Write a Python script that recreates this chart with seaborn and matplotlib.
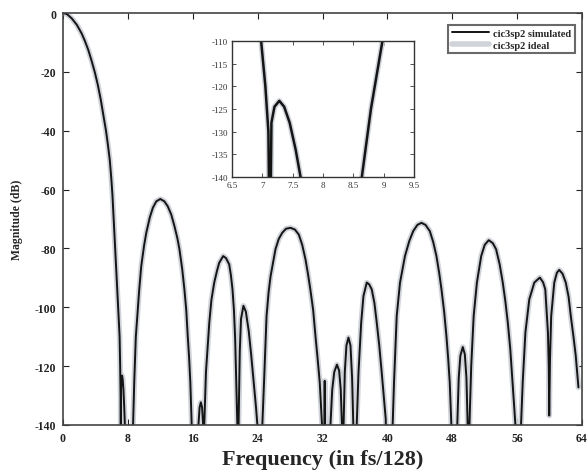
import numpy as np
import pandas as pd
import seaborn as sns
import matplotlib
matplotlib.use("Agg")
import matplotlib.pyplot as plt
from matplotlib.lines import Line2D

# ---- data (frequency in fs/128, magnitude in dB) ----
freq = [
    0, 0.5, 1.07, 1.7, 2.29, 2.7, 3.11, 3.5, 3.93, 4.3, 4.66, 5.0, 5.3, 5.55, 5.77,
    5.95, 6.1, 6.25, 6.45, 6.62, 6.8, 6.98, 7.05, 7.1, 7.12,
    7.13, 7.15, 7.2, 7.28, 7.36, 7.45, 7.55, 7.63, 7.66,
    8.62, 8.64, 8.79, 8.98, 9.16, 9.4, 9.65, 10.0, 10.27, 10.7, 11.08, 11.5, 12.0, 12.5,
    12.92, 13.35, 13.74, 14.1, 14.36, 14.7, 14.97, 15.2, 15.38, 15.55, 15.7, 15.87, 15.9,
    16.6, 16.7, 16.85, 17.0, 17.15, 17.28, 17.3,
    17.38, 17.42, 17.63, 18.04, 18.3, 18.65, 19.0, 19.26, 19.75, 20.1, 20.49, 20.7, 20.9,
    21.08, 21.23, 21.39, 21.5, 21.52,
    21.62, 21.65, 21.8, 21.95, 22.25, 22.55, 22.9, 23.2, 23.5, 23.8, 23.97, 24.0,
    24.55, 24.58, 24.79, 25.1, 25.35, 25.6, 26.2, 26.6, 27.03, 27.5, 28.06, 28.6, 29.08,
    29.5, 29.9, 30.2, 30.5, 30.85, 31.13, 31.4, 31.66, 31.94, 31.97,
    32.2, 32.27, 32.33,
    32.95, 32.98, 33.2, 33.45, 33.78, 34.05, 34.25, 34.4, 34.42,
    34.58, 34.6, 34.75, 34.95, 35.2, 35.45, 35.65, 35.8, 35.82,
    36.18, 36.22, 36.44, 36.77, 37.05, 37.46, 37.75, 38.07, 38.4, 38.69, 39.0, 39.3, 39.8, 39.85,
    40.62, 40.65, 40.82, 41.15, 41.56, 42.17, 42.7, 43.19, 43.7, 44.2, 44.7, 45.23, 45.65,
    46.05, 46.4, 46.67, 47.0, 47.28, 47.5, 47.69, 47.89, 47.92,
    48.58, 48.62, 48.8, 49.0, 49.3, 49.55, 49.75, 49.9, 49.92,
    50.08, 50.12, 50.34, 50.64, 51.04, 51.57, 52.0, 52.5, 53.0, 53.41, 53.85, 54.23, 54.55,
    54.85, 55.15, 55.38, 55.6, 55.79, 55.82,
    56.45, 56.48, 56.69, 57.02, 57.5, 58.12, 58.8, 59.2, 59.47, 59.8, 59.9, 59.96, 60.05,
    60.2, 60.58, 60.9, 61.19, 61.6, 62.0, 62.35, 62.62, 62.95, 63.23, 63.56,
]
mag_db = [
    0, -0.4, -1.8, -4, -6.9, -9.5, -12.5, -16, -20.2, -24.5, -29.5, -35, -40, -45, -50,
    -56, -62, -70, -80, -90, -100, -110, -120, -130, -155,
    -155, -128, -124.5, -123.2, -124.5, -128, -134, -140, -155,
    -155, -140, -125, -110, -103, -94, -86, -79, -74.7, -69.5, -66.2, -64, -63.2, -64,
    -65.7, -68.5, -72.4, -76.5, -80.3, -87, -93.9, -101, -109.7, -117, -125.4, -140, -155,
    -155, -140, -134, -132.3, -134, -140, -155,
    -155, -140, -122, -105.2, -97.5, -91.6, -87.5, -84.9, -82.6, -83.3, -85.4, -89, -93.9,
    -101, -110.8, -127.8, -140, -155,
    -155, -140, -115, -104, -99.5, -101.5, -108, -116, -125, -134, -140, -155,
    -155, -140, -125.5, -103, -95, -89.4, -80.3, -76.8, -74.7, -73.3, -73.0, -73.6, -75.3,
    -78.8, -83.7, -88.5, -93.9, -101, -109.7, -117.5, -125.5, -140, -155,
    -155, -125, -155,
    -155, -140, -128, -122, -119.5, -121.5, -128, -140, -155,
    -155, -140, -122, -113, -110.3, -113, -124, -140, -155,
    -155, -140, -122.1, -105.2, -96.2, -91.6, -92.2, -93.9, -98.5, -105.2, -113, -122.1, -138, -155,
    -155, -140, -125.5, -103, -91.6, -82.6, -77.5, -74.1, -72, -71.3, -72, -74.1, -77.8,
    -82.6, -88.5, -93.9, -101.5, -109.7, -117.5, -125.5, -140, -155,
    -155, -140, -124, -116.5, -113.5, -116, -124, -140, -155,
    -155, -140, -119.9, -103, -91.6, -82.6, -78.8, -77.2, -78.2, -80.3, -85.5, -91.6, -98,
    -105.2, -114, -123.3, -132, -140, -155,
    -155, -140, -125.5, -108.6, -97.3, -91.6, -89.9, -91.5, -93.9, -108.6, -120, -136.8, -118,
    -103, -91.6, -88.3, -87.3, -88.6, -91.6, -96.5, -103, -110, -116.5, -127.2,
]

series_names = ["cic3sp2 simulated", "cic3sp2 ideal"]
x_ticks = [0, 8, 16, 24, 32, 40, 48, 56, 64]
y_ticks = [0, -20, -40, -60, -80, -100, -120, -140]
inset_x_ticks = [6.5, 7, 7.5, 8, 8.5, 9, 9.5]
inset_x_labels = ["6.5", "7", "7.5", "8", "8.5", "9", "9.5"]
inset_y_ticks = [-110, -115, -120, -125, -130, -135, -140]

df = pd.DataFrame({"freq": freq, "mag": mag_db})

sns.set_theme(style="ticks")
plt.rcParams["font.family"] = ["Liberation Serif", "DejaVu Serif"]
plt.rcParams["font.weight"] = "bold"
plt.rcParams["axes.unicode_minus"] = False

fig = plt.figure(figsize=(5.87, 4.77), dpi=100)
W, H = 587, 477
ax = fig.add_axes([63 / W, 1 - 426 / H, (582 - 63) / W, (426 - 14) / H])

ideal_color = "#d0d4da"
sns.lineplot(data=df, x="freq", y="mag", ax=ax, sort=False, estimator=None,
             color=ideal_color, linewidth=4, legend=False)
sns.lineplot(data=df, x="freq", y="mag", ax=ax, sort=False, estimator=None,
             color="#141414", linewidth=1.4, legend=False)

ax.set_xlim(0, 64)
ax.set_ylim(-140, 0)
ax.set_xticks(x_ticks)
ax.set_yticks(y_ticks)
ax.tick_params(direction="in", top=True, right=True, length=4, width=0.8,
               labelsize=8.5, colors="#222222", pad=5)
for lab in ax.get_xticklabels() + ax.get_yticklabels():
    lab.set_fontweight("bold")
for s in ax.spines.values():
    s.set_linewidth(1.2)
    s.set_color("#444444")
ax.set_xlabel("Frequency (in fs/128)", fontsize=16, fontweight="bold", labelpad=4)
ax.set_ylabel("Magnitude (dB)", fontsize=8.5, fontweight="bold", labelpad=8)

handles = [Line2D([0], [0], color="#141414", lw=1.4),
           Line2D([0], [0], color=ideal_color, lw=4)]
leg = ax.legend(handles, series_names, loc="upper right",
                bbox_to_anchor=(0.987, 0.971), borderaxespad=0, fancybox=False,
                frameon=True, prop={"weight": "bold", "size": 7.5},
                handlelength=3.6, handletextpad=0.4, borderpad=0.35,
                labelspacing=0.25)
leg.get_frame().set_edgecolor("#444444")
leg.get_frame().set_linewidth(1.5)

# inset zoom
axi = fig.add_axes([232 / W, 1 - 178 / H, (414 - 232) / W, (178 - 42) / H])
sns.lineplot(data=df, x="freq", y="mag", ax=axi, sort=False, estimator=None,
             color=ideal_color, linewidth=4, legend=False)
sns.lineplot(data=df, x="freq", y="mag", ax=axi, sort=False, estimator=None,
             color="#141414", linewidth=1.8, legend=False)
axi.set_xlim(6.5, 9.5)
axi.set_ylim(-140, -110)
axi.set_xticks(inset_x_ticks)
axi.set_xticklabels(inset_x_labels)
axi.set_yticks(inset_y_ticks)
axi.set_xlabel("")
axi.set_ylabel("")
axi.tick_params(direction="in", top=True, right=True, length=3, width=0.6,
                labelsize=6.5, colors="#333333", pad=3)
for lab in axi.get_xticklabels() + axi.get_yticklabels():
    lab.set_fontweight("normal")
for s in axi.spines.values():
    s.set_linewidth(1.0)
    s.set_color("#333333")

fig.savefig("out.png", dpi=100)
